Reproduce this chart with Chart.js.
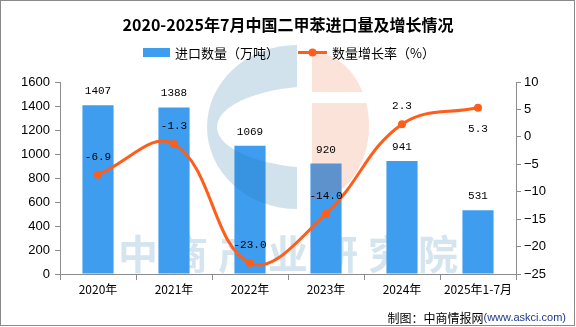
<!DOCTYPE html>
<html>
<head>
<meta charset="utf-8">
<script src="https://cdn.jsdelivr.net/npm/chart.js@4.4.1/dist/chart.umd.min.js"></script>
<style>
  html, body { margin: 0; padding: 0; background: #fff; }
</style>
</head>
<body>
<canvas id="chart" width="576" height="327"></canvas>
<script>
// Xylene imports, 2020 – Jul 2025
const categories = ['2020年', '2021年', '2022年', '2023年', '2024年', '2025年1-7月'];
const importVolume = [1407, 1388, 1069, 920, 941, 531];   // 万吨
const growthRate = [-6.9, -1.3, -23.0, -14.0, 2.3, 5.3];  // %
const volumeTicks = [0, 200, 400, 600, 800, 1000, 1200, 1400, 1600];
const rateTicks = [-25, -20, -15, -10, -5, 0, 5, 10];

const BAR_BLUE = '#3f9df0';
const LINE_ORANGE = '#ff5e1a';
const AXIS_GRAY = '#8c8c8c';
const CJK = "'Noto Sans CJK SC', 'Liberation Sans', sans-serif";

// title, legend, footer, frame and watermark drawn straight on the canvas
const decorPlugin = {
  id: 'decor',
  beforeDatasetsDraw(chart) {
    const ctx = chart.ctx;
    ctx.save();
    ctx.fillStyle = '#d4e5ef';
    ctx.font = `bold 40px ${CJK}`;
    ctx.textAlign = 'center';
    ctx.textBaseline = 'middle';
    const chars = '中商产业研究院'.split('');
    chars.forEach((ch, i) => ctx.fillText(ch, 138 + i * 50, 254));
    ctx.restore();
  },
  afterDatasetDraw(chart, args) {
    if (args.index !== 0) return;
    const ctx = chart.ctx;
    ctx.save();
    // blue "C" part of the logo
    ctx.beginPath();
    ctx.ellipse(297, 127, 90, 82, 0, Math.PI / 2, Math.PI * 1.5, false);
    ctx.closePath();
    ctx.save();
    ctx.clip();
    ctx.beginPath();
    ctx.rect(0, 0, 576, 327);
    ctx.ellipse(320, 127, 103, 41, 0, 0, Math.PI * 2, true);
    ctx.fillStyle = 'rgba(30, 110, 160, 0.2)';
    ctx.fill();
    ctx.restore();
    // peach half disc with a gap
    ctx.beginPath();
    ctx.rect(312, 0, 100, 92);
    ctx.rect(312, 103, 100, 200);
    ctx.clip();
    ctx.beginPath();
    ctx.ellipse(312, 126, 57, 74, 0, -Math.PI / 2, Math.PI / 2, false);
    ctx.closePath();
    ctx.fillStyle = 'rgba(240, 100, 50, 0.18)';
    ctx.fill();
    ctx.restore();
  },
  afterDatasetsDraw(chart) {
    const ctx = chart.ctx;
    ctx.save();
    ctx.fillStyle = '#000';
    ctx.textAlign = 'center';
    ctx.textBaseline = 'middle';
    ctx.font = "11px 'Liberation Mono', monospace";
    const barMeta = chart.getDatasetMeta(0);
    barMeta.data.forEach((bar, i) => {
      ctx.fillText(String(importVolume[i]), bar.x, bar.y - 14);
    });
    const lineMeta = chart.getDatasetMeta(1);
    lineMeta.data.forEach((pt, i) => {
      const below = i === growthRate.length - 1;
      ctx.fillText(growthRate[i].toFixed(1), pt.x, below ? pt.y + 21 : pt.y - 18);
    });
    ctx.restore();
  },
  afterDraw(chart) {
    const ctx = chart.ctx;
    ctx.save();
    // title
    ctx.fillStyle = '#000';
    ctx.textAlign = 'center';
    ctx.textBaseline = 'middle';
    ctx.font = `bold 16px ${CJK}`;
    ctx.fillText('2020-2025年7月中国二甲苯进口量及增长情况', 288, 25);

    // legend
    ctx.textAlign = 'left';
    ctx.font = `13px ${CJK}`;
    ctx.fillStyle = BAR_BLUE;
    ctx.fillRect(143, 48, 27, 9);
    ctx.fillStyle = '#000';
    ctx.fillText('进口数量（万吨）', 175, 53);
    ctx.strokeStyle = LINE_ORANGE;
    ctx.lineWidth = 3;
    ctx.beginPath();
    ctx.moveTo(298, 52.5);
    ctx.lineTo(327, 52.5);
    ctx.stroke();
    ctx.fillStyle = LINE_ORANGE;
    ctx.beginPath();
    ctx.arc(312.5, 52.5, 4, 0, Math.PI * 2);
    ctx.fill();
    ctx.fillStyle = '#000';
    ctx.fillText('数量增长率（%）', 332, 53);

    // footer
    ctx.textAlign = 'right';
    ctx.font = "11px 'Liberation Sans', sans-serif";
    ctx.fillStyle = '#1a3a8a';
    const site = '(www.askci.com)';
    ctx.fillText(site, 566, 318);
    const siteW = ctx.measureText(site).width;
    ctx.font = `12px ${CJK}`;
    ctx.fillStyle = '#000';
    ctx.fillText('制图：中商情报网', 566 - siteW, 318);

    // frame
    ctx.strokeStyle = '#8a8a8a';
    ctx.lineWidth = 1;
    ctx.strokeRect(0.5, 0.5, 574, 325);
    ctx.restore();
  }
};

const minusSign = v => (v < 0 ? '\u2212' + Math.abs(v) : String(v));

new Chart(document.getElementById('chart'), {
  data: {
    labels: categories,
    datasets: [
      {
        type: 'bar',
        label: '进口数量（万吨）',
        data: importVolume,
        backgroundColor: BAR_BLUE,
        barPercentage: 0.82,
        categoryPercentage: 0.5,
        yAxisID: 'y',
        order: 2
      },
      {
        type: 'line',
        label: '数量增长率（%）',
        data: growthRate,
        borderColor: LINE_ORANGE,
        backgroundColor: LINE_ORANGE,
        borderWidth: 3,
        tension: 0.4,
        pointRadius: 4,
        pointBackgroundColor: LINE_ORANGE,
        pointBorderWidth: 0,
        yAxisID: 'y1',
        order: 1
      }
    ]
  },
  options: {
    responsive: false,
    devicePixelRatio: 1,
    animation: false,
    layout: { padding: { top: 82, left: 0, right: 0, bottom: 0 } },
    plugins: {
      legend: { display: false },
      title: { display: false },
      tooltip: { enabled: false }
    },
    scales: {
      x: {
        offset: true,
        grid: { display: true, drawOnChartArea: false, offset: true, tickLength: 6, color: AXIS_GRAY },
        border: { color: AXIS_GRAY },
        ticks: { color: '#000', font: { family: CJK, size: 12 }, padding: 2, maxRotation: 0 },
        afterFit: s => { s.height = 53; }
      },
      y: {
        position: 'left',
        min: 0,
        max: 1600,
        afterBuildTicks: s => { s.ticks = volumeTicks.map(v => ({ value: v })); },
        grid: { display: true, drawOnChartArea: false, tickLength: 5, color: AXIS_GRAY },
        border: { color: AXIS_GRAY },
        ticks: {
          color: '#000',
          font: { family: "'Liberation Sans', sans-serif", size: 13 },
          padding: 5,
          callback: v => String(v)
        },
        afterFit: s => { s.width = 60; }
      },
      y1: {
        position: 'right',
        min: -25,
        max: 10,
        afterBuildTicks: s => { s.ticks = rateTicks.map(v => ({ value: v })); },
        grid: { display: true, drawOnChartArea: false, tickLength: 5, color: AXIS_GRAY },
        border: { color: AXIS_GRAY },
        ticks: {
          color: '#000',
          font: { family: "'Liberation Sans', sans-serif", size: 13 },
          padding: 3,
          callback: v => minusSign(v)
        },
        afterFit: s => { s.width = 60; }
      }
    }
  },
  plugins: [decorPlugin]
});
</script>
</body>
</html>
